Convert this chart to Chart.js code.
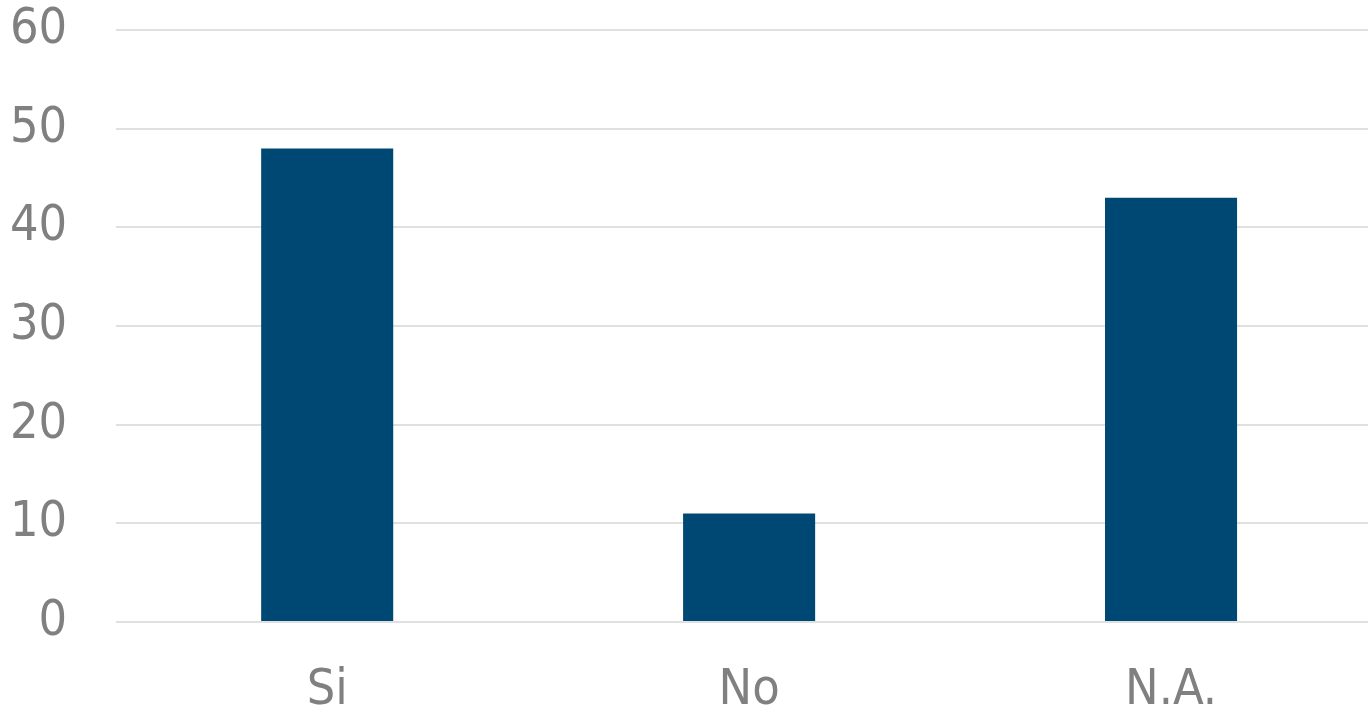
<!DOCTYPE html>
<html>
<head>
<meta charset="utf-8">
<script src="https://cdn.jsdelivr.net/npm/chart.js@4/dist/chart.umd.min.js"></script>
<style>
  html, body { margin: 0; padding: 0; background: #fff; overflow: hidden; }
</style>
</head>
<body>
<canvas id="barChart" width="1382" height="713"></canvas>
<script>
const categories = ['Si', 'No', 'N.A.'];
const values = [48, 11, 43];
const yTicks = [0, 10, 20, 30, 40, 50, 60];

const labelFont = { family: '"Liberation Sans Narrow", "DejaVu Sans Condensed", "Liberation Sans", sans-serif', size: 50 };

const ctx = document.getElementById('barChart').getContext('2d');
new Chart(ctx, {
    type: 'bar',
    data: {
        labels: categories,
        datasets: [{
            data: values,
            backgroundColor: '#004874',
            categoryPercentage: 1,
            barPercentage: 0.313
        }]
    },
    options: {
        responsive: false,
        animation: false,
        layout: { padding: { left: -39, top: 0, right: 0, bottom: -39 } },
        scales: {
            x: {
                grid: { display: false },
                border: { display: false },
                ticks: { color: '#808080', font: labelFont, padding: 31 }
            },
            y: {
                min: yTicks[0],
                max: yTicks[yTicks.length - 1],
                afterBuildTicks: axis => { axis.ticks = yTicks.map(v => ({ value: v })); },
                // tick padding is also added above the top label; keep only half a label
                afterFit: axis => { axis.paddingTop = 30; axis.paddingBottom = 30; },
                grid: { color: '#e0e0e0', lineWidth: 2, drawTicks: false },
                border: { display: false },
                ticks: { color: '#808080', font: labelFont, padding: 49 }
            }
        },
        plugins: {
            legend: { display: false },
            tooltip: { enabled: false }
        }
    }
});
</script>
</body>
</html>
